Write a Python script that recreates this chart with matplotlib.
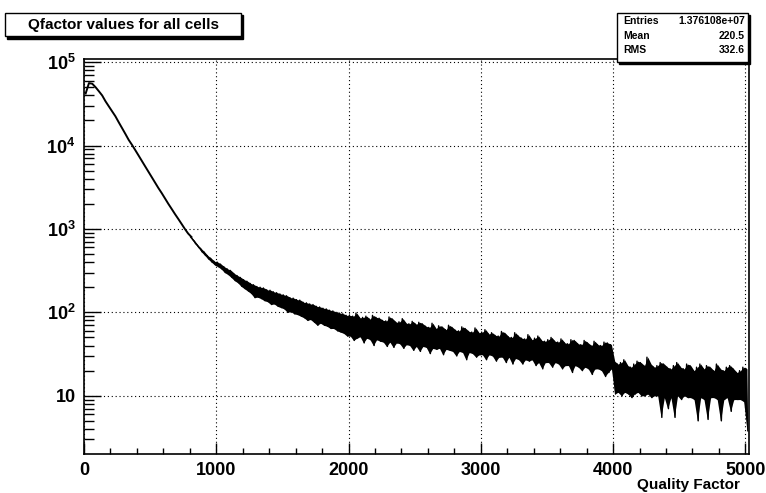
import numpy as np
import matplotlib
matplotlib.use('Agg')
import matplotlib.pyplot as plt
from matplotlib.patches import Rectangle
from matplotlib.ticker import FixedLocator, LogLocator, NullFormatter, MultipleLocator

plt.rcParams['font.family'] = ['Liberation Sans', 'DejaVu Sans']
plt.rcParams['font.weight'] = 'bold'
plt.rcParams['mathtext.fontset'] = 'custom'
plt.rcParams['mathtext.default'] = 'bf'
plt.rcParams['mathtext.bf'] = 'Liberation Sans:bold'
plt.rcParams['mathtext.rm'] = 'Liberation Sans:bold'

# histogramos duomenys, binu plotis 25
bin_width = 25
# smooth part near the peak (bins 0..31)
peak_counts = [42000, 56000, 55000, 50000, 44700, 39800, 33900, 29500, 25700, 22400,
               19000, 16200, 13800, 11700, 10200, 8810, 7590, 6530, 5620, 4840,
               4170, 3590, 3090, 2690, 2320, 2000, 1740, 1510, 1320, 1150,
               1000, 880]
# noisy part (bins 32..200): upper and lower values of the fluctuating band
band_hi = [800, 720, 640, 580, 530, 478, 445, 410,
           400, 378, 352, 332, 318, 292, 276, 262, 246, 236,
           222, 214, 204, 200, 196, 186, 184, 176, 172, 166,
           162, 158, 150, 148, 142, 140, 132, 130, 126, 124,
           118, 116, 112, 110, 106, 104, 100, 98, 96, 92,
           92, 90, 98, 86, 87, 90, 83, 92, 87, 85, 80, 79, 88, 83, 76, 77, 84, 74, 73, 78,
           72, 76, 73, 68, 66, 74, 64, 69, 67, 62, 70, 66, 61, 60, 67, 64, 59, 58, 65, 57,
           58, 62, 55, 57, 53, 52, 59, 56, 51, 50, 57, 52, 49, 48, 54, 47, 49, 52, 46, 45,
           47, 50, 45, 44, 48, 43, 42, 47, 46, 42, 41, 46, 43, 40, 45, 41, 40, 44, 43, 41,
           26, 24, 25, 27, 23, 22, 24, 26, 25, 23, 29, 24, 22, 23, 25, 24, 22, 21, 23, 25,
           22, 21, 24, 23, 20, 22, 24, 21, 23, 22, 20, 24, 21, 20, 22, 23, 21, 19, 20, 22, 21]
band_lo = [755, 668, 598, 530, 482, 436, 400, 370,
           352, 330, 300, 284, 262, 240, 226, 205, 192, 180,
           168, 150, 152, 146, 138, 134, 124, 126, 118, 114,
           110, 100, 102, 96, 94, 90, 86, 80, 82, 76,
           70, 74, 70, 68, 64, 64, 60, 58, 56, 52,
           52, 46, 49, 51, 43, 49, 47, 40, 47, 45, 44, 39, 44, 38, 43, 42, 37, 41, 40, 35,
           39, 34, 39, 38, 32, 37, 36, 37, 31, 36, 35, 34, 30, 34, 33, 27, 33, 32, 29, 31,
           31, 27, 31, 30, 26, 29, 29, 25, 29, 24, 28, 27, 24, 27, 26, 27, 23, 25, 21, 25,
           25, 22, 25, 24, 21, 23, 23, 19, 23, 22, 20, 22, 21, 18, 21, 21, 20, 17, 19, 21,
           10.5, 11, 10, 11, 10.5, 9.5, 10.5, 11, 10, 10, 10.5, 9.5, 10, 10, 5.5,
           9.5, 7.0, 9.5, 5.5, 10, 9.0, 10, 9.5, 9.5, 9.0, 5.0, 9.5, 9.0, 5.2, 9.5,
           9.5, 9.0, 5.0, 9.0, 9.5, 6.5, 9.0, 9.0, 9.0, 8.5, 3.8]

stats_labels = ['Entries', 'Mean', 'RMS']
stats_values = ['1.376108e+07', '220.5', '332.6']
y_tick_values = [10, 100, 1000, 10000, 100000]
y_tick_labels = ['10', r'$10^{2}$', r'$10^{3}$', r'$10^{4}$', r'$10^{5}$']

W, H = 766, 493
fig = plt.figure(figsize=(W / 100, H / 100), dpi=100)
ax = fig.add_axes([84 / W, 1 - 453.7 / H, (749.3 - 84) / W, (453.7 - 59.3) / H])

n_peak = len(peak_counts)
peak_x = bin_width * (np.arange(n_peak) + 0.5)
band_edges = bin_width * np.arange(n_peak, n_peak + len(band_hi))
band_c = band_edges + bin_width * 0.5

# smooth peak part, joined to the start of the band
ax.plot(np.append(peak_x, band_c[0]), np.append(peak_counts, band_hi[0]), color='black', lw=1.4)

# noisy part: filled band between lower and upper values + zigzag over it
ax.fill_between(band_c, band_lo, band_hi, color='black', lw=0)
zig_x = np.ravel(np.column_stack([band_edges + bin_width * 0.25, band_edges + bin_width * 0.75]))
zig_y = np.ravel(np.column_stack([band_hi, band_lo]))
ax.plot(zig_x, zig_y, color='black', lw=1.0)

ax.set_yscale('log')
ax.set_xlim(0, 5030)
ax.set_ylim(2.02, 1.08e5)

ax.xaxis.set_major_locator(MultipleLocator(1000))
ax.xaxis.set_minor_locator(MultipleLocator(200))
ax.yaxis.set_major_locator(FixedLocator(y_tick_values))
ax.set_yticklabels(y_tick_labels)
ax.yaxis.set_minor_locator(LogLocator(base=10, subs=np.arange(2, 10)))
ax.yaxis.set_minor_formatter(NullFormatter())

ax.tick_params(axis='both', which='both', direction='in', top=False, right=False,
               colors='black', width=1.0)
ax.tick_params(axis='x', which='major', length=8, labelsize=13, pad=6)
ax.tick_params(axis='x', which='minor', length=4)
ax.tick_params(axis='y', which='major', length=12, labelsize=13, pad=6)
ax.tick_params(axis='y', which='minor', length=7)
for lab in ax.get_xticklabels() + ax.get_yticklabels():
    lab.set_fontweight('bold')

ax.grid(True, which='major', color='black', linestyle=(0, (1, 2.5)), lw=0.8)
for sp in ax.spines.values():
    sp.set_linewidth(1.2)

fig.text(740 / W, 1 - 485 / H, 'Quality Factor', ha='right', va='center',
         fontsize=11, fontweight='bold')

# title box with shadow
fig.patches.append(Rectangle((7 / W, 1 - 38.5 / H), 236 / W, 23.3 / H, transform=fig.transFigure,
                             facecolor='black', edgecolor='black', zorder=5))
fig.patches.append(Rectangle((5 / W, 1 - 36 / H), 236 / W, 23.3 / H, transform=fig.transFigure,
                             facecolor='white', edgecolor='black', lw=1, zorder=6))
fig.text(123 / W, 1 - 24.5 / H, 'Qfactor values for all cells', ha='center', va='center',
         fontsize=11, fontweight='bold', zorder=7)

# stats box
fig.patches.append(Rectangle((619 / W, 1 - 64.3 / H), 131 / W, 49.6 / H, transform=fig.transFigure,
                             facecolor='black', edgecolor='black', zorder=5))
fig.patches.append(Rectangle((617 / W, 1 - 62.3 / H), 131 / W, 49.6 / H, transform=fig.transFigure,
                             facecolor='white', edgecolor='black', lw=1, zorder=6))
for i, (lab, val) in enumerate(zip(stats_labels, stats_values)):
    yy = 1 - (21 + 14.7 * i) / H
    fig.text(623 / W, yy, lab, ha='left', va='center', fontsize=7.5, fontweight='bold', zorder=7)
    fig.text(745 / W, yy, val, ha='right', va='center', fontsize=7.5, fontweight='bold', zorder=7)

fig.savefig('out.png', dpi=100)
